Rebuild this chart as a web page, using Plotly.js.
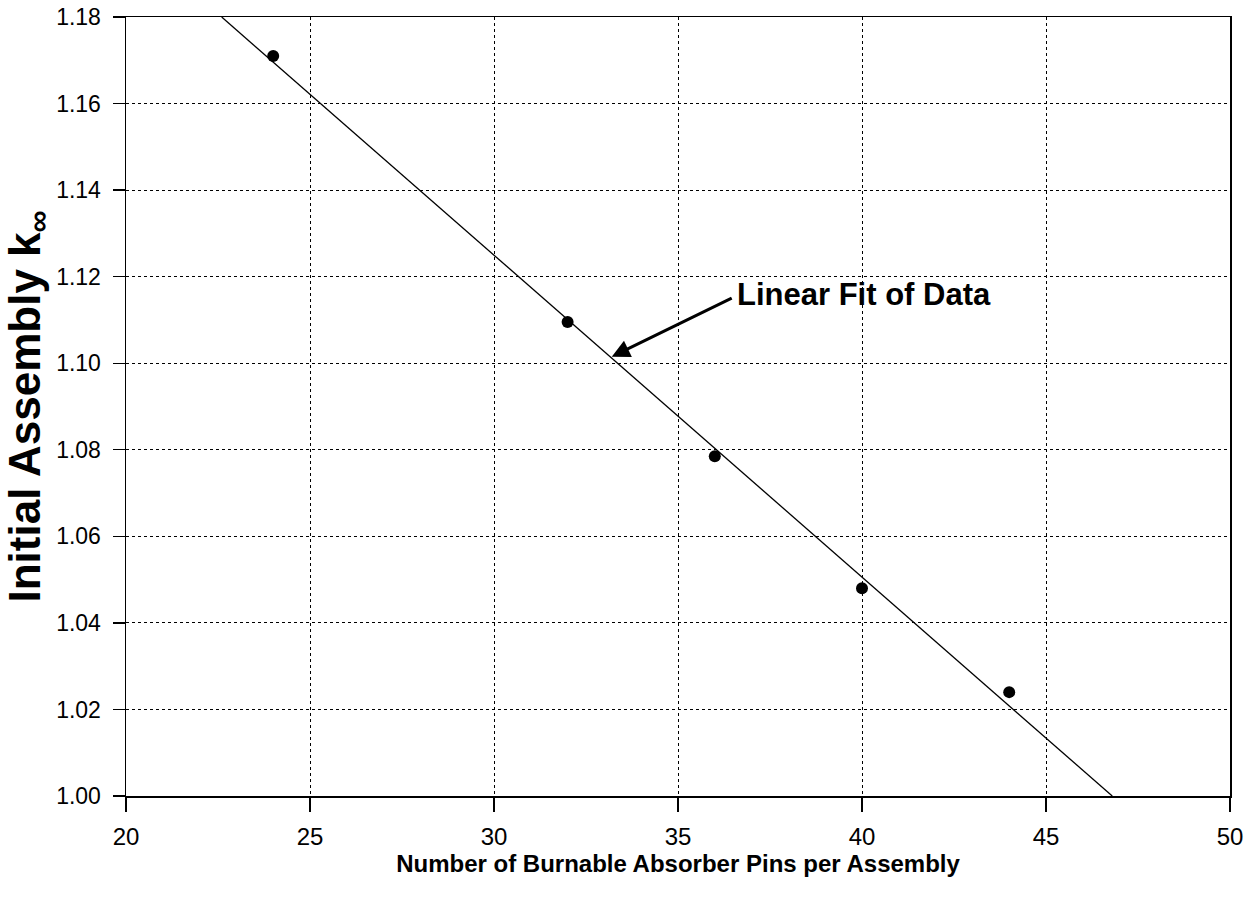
<!DOCTYPE html>
<html>
<head>
<meta charset="utf-8">
<script src="https://cdn.plot.ly/plotly-3.0.1.min.js"></script>
<style>html,body{margin:0;padding:0;background:#fff;}#chart{width:1249px;height:899px;}</style>
</head>
<body>
<div id="chart"></div>
<script>
// Data
const pins = [24, 32, 36, 40, 44];
const kInf = [1.171, 1.1095, 1.0785, 1.048, 1.024];
// Linear fit line endpoints (as drawn in the reference)
const fitPins = [22.6, 46.8];
const fitK = [1.18, 1.00];
const xTicks = [20, 25, 30, 35, 40, 45, 50];
const yTicks = [1.00, 1.02, 1.04, 1.06, 1.08, 1.10, 1.12, 1.14, 1.16, 1.18];
const yTickText = ['1.00','1.02','1.04','1.06','1.08','1.10','1.12','1.14','1.16','1.18'];
const arrowHead = [33.2, 1.1015];
const arrowTail = [36.5, 1.1152];
const labelText = 'Linear Fit of Data';

const FONT = 'Liberation Sans, Arial, Helvetica, sans-serif';

const traces = [
  {
    x: fitPins, y: fitK, mode: 'lines', type: 'scatter',
    line: {color: '#000', width: 1.3}, hoverinfo: 'skip', showlegend: false
  },
  {
    x: pins, y: kInf, mode: 'markers', type: 'scatter',
    marker: {color: '#000', size: 12, symbol: 'circle'}, showlegend: false
  }
];

const layout = {
  width: 1249, height: 899,
  paper_bgcolor: '#fff', plot_bgcolor: '#fff',
  margin: {l: 126, r: 19, t: 17, b: 103},
  showlegend: false,
  font: {family: FONT, color: '#000'},
  xaxis: {
    range: [20, 50], tickvals: xTicks, ticktext: xTicks.map(String),
    showgrid: true, gridcolor: '#000', griddash: 'dot', gridwidth: 1,
    showline: true, linecolor: '#000', linewidth: 1.5, mirror: true,
    ticks: 'outside', ticklen: 14, tickcolor: '#000', tickwidth: 1.3,
    ticklabelstandoff: 5,
    tickfont: {family: FONT, size: 24, color: '#000'},
    zeroline: false,
    title: {text: '<b>Number of Burnable Absorber Pins per Assembly</b>', font: {family: FONT, size: 24, color: '#000'}, standoff: 0}
  },
  yaxis: {
    range: [1.00, 1.18], tickvals: yTicks, ticktext: yTickText,
    showgrid: true, gridcolor: '#000', griddash: 'dot', gridwidth: 1,
    showline: true, linecolor: '#000', linewidth: 1.5, mirror: true,
    ticks: 'outside', ticklen: 12, tickcolor: '#000', tickwidth: 1.3,
    ticklabelstandoff: 7,
    tickfont: {family: FONT, size: 23, color: '#000'},
    zeroline: false,
    title: {text: '<b>Initial Assembly k<sub>∞</sub></b>', font: {family: FONT, size: 44, color: '#000'}, standoff: 8}
  },
  annotations: [
    {
      x: arrowHead[0], y: arrowHead[1], ax: arrowTail[0], ay: arrowTail[1],
      xref: 'x', yref: 'y', axref: 'x', ayref: 'y',
      text: '', showarrow: true, arrowhead: 2, arrowsize: 1.2, arrowwidth: 3, arrowcolor: '#000'
    },
    {
      x: arrowTail[0], y: arrowTail[1], xref: 'x', yref: 'y',
      text: '<b>' + labelText + '</b>', showarrow: false,
      xanchor: 'left', yanchor: 'middle', xshift: 2, yshift: 3,
      font: {family: FONT, size: 31, color: '#000'}
    }
  ]
};

Plotly.newPlot('chart', traces, layout, {displayModeBar: false, staticPlot: true});
</script>
</body>
</html>
